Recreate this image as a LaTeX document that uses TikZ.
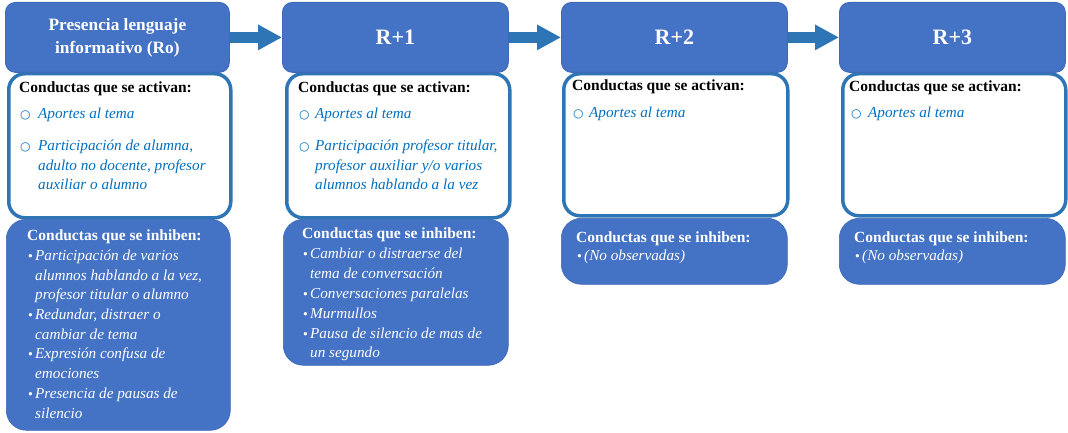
\documentclass[tikz,border=0pt]{standalone}
\usepackage{fontspec}
\setmainfont{Liberation Serif}
\newfontfamily\symf{DejaVu Sans}
\usetikzlibrary{arrows.meta}
\definecolor{hdrfill}{HTML}{4472C4}
\definecolor{hdrline}{HTML}{3F69B5}
\definecolor{bord}{HTML}{2E75B6}
\definecolor{arr}{HTML}{2E75B6}
\definecolor{itblue}{HTML}{0070C0}
\tikzset{
  hdr/.style={fill=hdrfill, draw=hdrline, line width=0.8pt, rounded corners=10pt, inner sep=0pt, anchor=north west, text=white, font=\bfseries\fontsize{17.3}{23}\selectfont, align=center},
  hdrbig/.style={hdr, font=\bfseries\fontsize{22}{24}\selectfont},
  actbox/.style={fill=white, draw=bord, line width=3.5pt, rounded corners=16pt, inner sep=0pt, anchor=north west},
  inhbox/.style={fill=hdrfill, draw=hdrline, line width=0.6pt, rounded corners=20pt, inner sep=0pt, anchor=north west},
  ttlk/.style={anchor=base west, inner sep=0pt, font=\bfseries\fontsize{15.5}{16}\selectfont, text=black},
  ttlw/.style={ttlk, text=white},
  acti/.style={anchor=base west, inner sep=0pt, font=\itshape\fontsize{15.2}{16}\selectfont, text=itblue},
  inhi/.style={anchor=base west, inner sep=0pt, font=\itshape\fontsize{15.2}{16}\selectfont, text=white},
  obul/.style={anchor=base west, inner sep=0pt, font=\symf\fontsize{12}{12}\selectfont, text=itblue},
  wbul/.style={anchor=base west, inner sep=0pt, font=\symf\fontsize{11.5}{12}\selectfont, text=white},
  flow/.style={draw=arr, line width=11pt, -{Triangle[length=24pt,width=24pt]}}
}
\begin{document}
\begin{tikzpicture}[x=1pt,y=-1pt]
\useasboundingbox (0,0) rectangle (1068,433);
% white activation boxes
\node[actbox, minimum width=222pt, minimum height=144pt] (a1) at (7,72) {};
\node[actbox, minimum width=223pt, minimum height=144pt] (a2) at (285,72) {};
\node[actbox, minimum width=224pt, minimum height=142pt] (a3) at (562,72) {};
\node[actbox, minimum width=223pt, minimum height=142pt] (a4) at (841,72) {};
% headers
\node[hdr, minimum width=224pt, minimum height=70pt] (h1) at (5,2) {Presencia lenguaje\\informativo (Ro)};
\node[hdrbig, minimum width=226pt, minimum height=70pt] (h2) at (282,2) {R+1};
\node[hdrbig, minimum width=226pt, minimum height=70pt] (h3) at (561,2) {R+2};
\node[hdrbig, minimum width=226pt, minimum height=70pt] (h4) at (839,2) {R+3};
% inhibition boxes
\node[inhbox, minimum width=224pt, minimum height=211pt] (i1) at (6,219) {};
\node[inhbox, minimum width=225pt, minimum height=146pt] (i2) at (283,219) {};
\node[inhbox, minimum width=226pt, minimum height=66pt] (i3) at (561,218) {};
\node[inhbox, minimum width=226pt, minimum height=66pt] (i4) at (839,218) {};
% arrows
\draw[flow] (h1.east) -- (h2.west);
\draw[flow] (h2.east) -- (h3.west);
\draw[flow] (h3.east) -- (h4.west);
% column 1 activation
\node[ttlk] (c1t) at (19,93) {Conductas que se activan:};
\node[obul] (c1b1) at (20,119) {○};
\node[acti] (c1l1) at (38,119) {Aportes al tema};
\node[obul] (c1b2) at (20,150) {○};
\node[acti] (c1l2) at (38,150) {Participación de alumna,};
\node[acti] (c1l3) at (38,170) {adulto no docente, profesor};
\node[acti] (c1l4) at (38,189) {auxiliar o alumno};
% column 1 inhibition
\node[ttlw] (c1u) at (27,240) {Conductas que se inhiben:};
\node[wbul] (c1w1) at (27,260) {•};
\node[inhi] (c1m1) at (35,260) {Participación de varios};
\node[inhi] (c1m2) at (35,280) {alumnos hablando a la vez,};
\node[inhi] (c1m3) at (35,299) {profesor titular o alumno};
\node[wbul] (c1w2) at (27,319) {•};
\node[inhi] (c1m4) at (35,319) {Redundar, distraer o};
\node[inhi] (c1m5) at (35,339) {cambiar de tema};
\node[wbul] (c1w3) at (27,358) {•};
\node[inhi] (c1m6) at (35,358) {Expresión confusa de};
\node[inhi] (c1m7) at (35,378) {emociones};
\node[wbul] (c1w4) at (27,398) {•};
\node[inhi] (c1m8) at (35,398) {Presencia de pausas de};
\node[inhi] (c1m9) at (35,418) {silencio};
% column 2 activation
\node[ttlk] (c2t) at (298,93) {Conductas que se activan:};
\node[obul] (c2b1) at (299,119) {○};
\node[acti] (c2l1) at (315,119) {Aportes al tema};
\node[obul] (c2b2) at (299,150) {○};
\node[acti] (c2l2) at (315,150) {Participación profesor titular,};
\node[acti] (c2l3) at (315,170) {profesor auxiliar y/o varios};
\node[acti] (c2l4) at (315,189) {alumnos hablando a la vez};
% column 2 inhibition
\node[ttlw] (c2u) at (302,238) {Conductas que se inhiben:};
\node[wbul] (c2w1) at (302,258) {•};
\node[inhi] (c2m1) at (310,258) {Cambiar o distraerse del};
\node[inhi] (c2m2) at (310,278) {tema de conversación};
\node[wbul] (c2w2) at (302,298) {•};
\node[inhi] (c2m3) at (310,298) {Conversaciones paralelas};
\node[wbul] (c2w3) at (302,318) {•};
\node[inhi] (c2m4) at (310,318) {Murmullos};
\node[wbul] (c2w4) at (302,338) {•};
\node[inhi] (c2m5) at (310,338) {Pausa de silencio de mas de};
\node[inhi] (c2m6) at (310,357) {un segundo};
% column 3
\node[ttlk] (c3t) at (572,91) {Conductas que se activan:};
\node[obul] (c3b1) at (573,118) {○};
\node[acti] (c3l1) at (589,118) {Aportes al tema};
\node[ttlw] (c3u) at (576,242) {Conductas que se inhiben:};
\node[wbul] (c3w1) at (576,260) {•};
\node[inhi] (c3m1) at (584,260) {(No observadas)};
% column 4
\node[ttlk] (c4t) at (849,92) {Conductas que se activan:};
\node[obul] (c4b1) at (851,118) {○};
\node[acti] (c4l1) at (868,118) {Aportes al tema};
\node[ttlw] (c4u) at (854,242) {Conductas que se inhiben:};
\node[wbul] (c4w1) at (854,260) {•};
\node[inhi] (c4m1) at (862,260) {(No observadas)};
\end{tikzpicture}
\end{document}
